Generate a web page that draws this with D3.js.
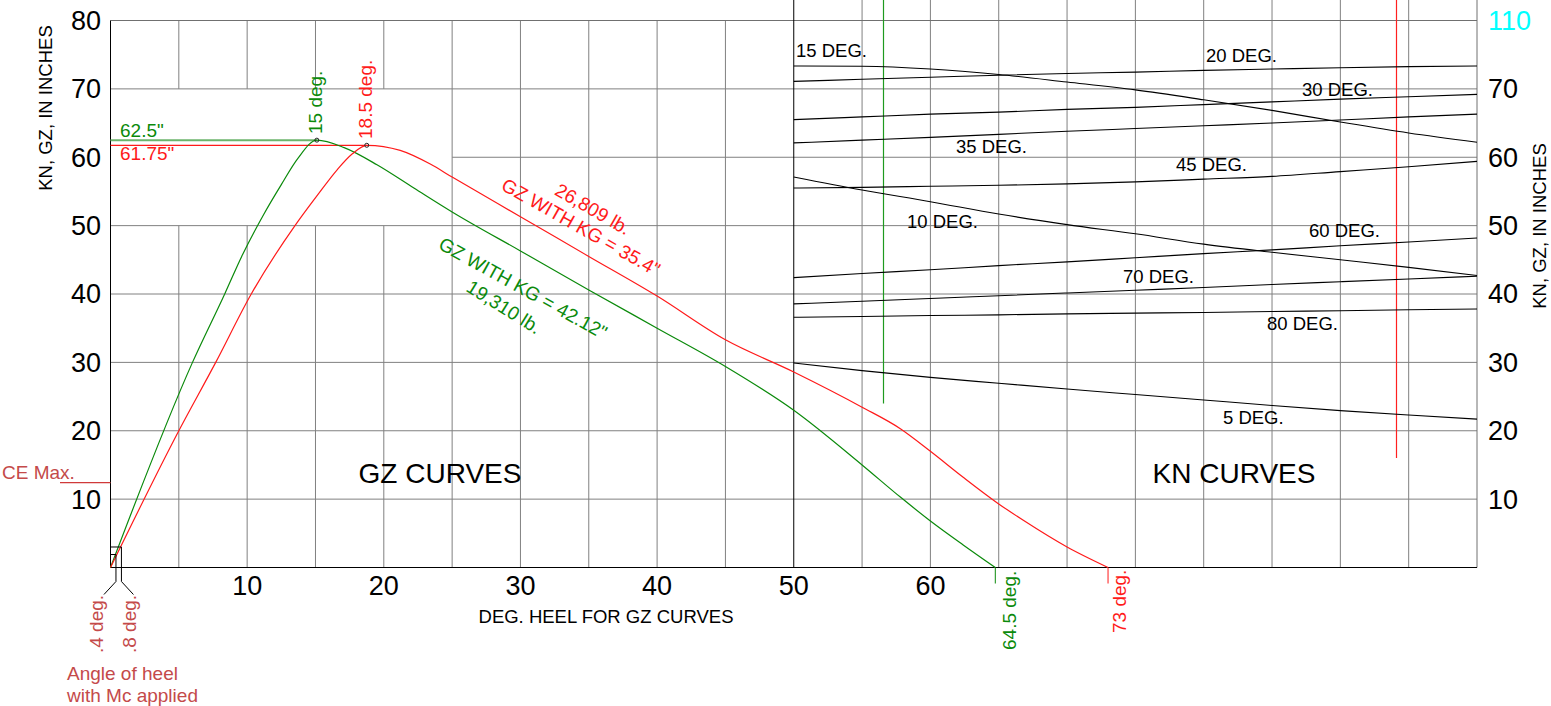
<!DOCTYPE html>
<html><head><meta charset="utf-8">
<script src="https://cdn.jsdelivr.net/npm/d3@7"></script>
<style>
body{margin:0;background:#fff}
svg{display:block}
text{font-family:"Liberation Sans",Arial,Helvetica,sans-serif}
</style>
</head><body>
<svg id="c" width="1551" height="706"></svg>
<script>
// ---------- DATA ----------
const heelTicks  = [10, 20, 30, 40, 50, 60];
const leftTicks  = [10, 20, 30, 40, 50, 60, 70, 80];
const rightTicks = [10, 20, 30, 40, 50, 60, 70];
const rightTopLabel = "110";

// GZ curves: [heel deg, GZ inches]
const gzGreen = [[0,0],[6,30],[8.4,40.2],[9.6,45.5],[11.2,51.6],[12.5,56.0],[13.7,59.8],[15.1,62.5],
  [17.1,61.4],[19.5,58.9],[22.2,55.5],[25,52.0],[30,46.3],[35,40.6],[40,35.0],[45,29.4],[50,23.0],
  [55,15.0],[57.8,10.3],[60,6.8],[62.4,3.3],[64.75,0]];
const gzRed = [[0,0],[5,20],[7.7,30],[10.3,40],[13.5,50],[15.2,54.6],[16.6,58.2],[17.7,60.5],[18.75,61.75],
  [21.2,61.0],[23.4,59.0],[25,57.1],[30,51.3],[35,45.5],[40,39.7],[45,33.3],[50,28.6],[55,23.45],[57.8,20.3],
  [60,17.0],[62.4,13.2],[65,9.3],[66.8,6.9],[70,3.0],[73,0]];
const greenPeak = {deg: 15.1, gz: 62.5, degLabel: "15 deg.", gzLabel: '62.5"'};
const redPeak   = {deg: 18.75, gz: 61.75, degLabel: "18.5 deg.", gzLabel: '61.75"'};
const greenEnd = {deg: 64.75, label: "64.5 deg."};
const redEnd   = {deg: 73, label: "73 deg."};
const ceMax = 12.4;
const mcAngles = [{deg: 0.4, gz: 1.9, label: ".4 deg."}, {deg: 0.8, gz: 3.0, label: ".8 deg."}];

// KN curves: displacement (lb) vs KN (inches)
const knDisp = [18000,19000,20000,21000,22000,23000,24000,25000,26000,27000,28000];
const kn5  = [29.9,28.8,27.8,26.95,26.1,25.3,24.5,23.7,22.95,22.3,21.7];
const kn10 = [57.1,55.2,53.5,51.7,50.15,48.8,47.3,46.1,45.0,43.9,42.7];
const kn15 = [73.35,73.3,72.9,72.1,71.0,69.85,68.4,66.85,65.15,63.55,62.2];
const kn20 = [71.1,71.4,71.7,72.0,72.25,72.45,72.7,72.9,73.1,73.25,73.35];
const kn30 = [65.5,65.9,66.3,66.6,67.0,67.3,67.7,68.1,68.5,68.85,69.2];
const kn35 = [62.1,62.5,62.9,63.35,63.8,64.2,64.6,65.0,65.45,65.9,66.3];
const kn45 = [55.5,55.6,55.75,55.9,56.1,56.4,56.8,57.2,57.9,58.6,59.4];
const kn60 = [42.4,43.0,43.55,44.15,44.7,45.3,45.9,46.45,47.05,47.6,48.2];
const kn70 = [38.55,38.95,39.35,39.75,40.15,40.55,40.95,41.4,41.8,42.2,42.6];
const kn80 = [36.6,36.7,36.85,36.95,37.1,37.2,37.3,37.45,37.55,37.7,37.8];
const knLabels = [["15 DEG.",18033,74.66],["20 DEG.",24034,73.93],["30 DEG.",25439,68.96],["35 DEG.",20375,60.62],
  ["45 DEG.",23595,57.92],["10 DEG.",19658,49.65],["60 DEG.",25541,48.34],["70 DEG.",22819,41.61],
  ["80 DEG.",24926,34.73],["5 DEG.",24282,20.99]];
const dispGreen = 19310, dispGreenBottom = 24;
const dispRed = 26809, dispRedBottom = 16;

// ---------- DRAW ----------
const svg = d3.select("#c");
const x = d3.scaleLinear().domain([0, 100]).range([110.5, 1477]);
const y = d3.scaleLinear().domain([0, 80]).range([567.5, 20.5]);
const xd = d3.scaleLinear().domain([18000, 28000]).range([x(50), x(100)]);

const GREEN = "#0b8a0b", RED = "#ff1a1a", DRED = "#c44a4a", GRID = "#808080";
const g = svg.append("g");

function seg(x1, y1, x2, y2, color, w) {
  g.append("line").attr("x1", x1).attr("y1", y1).attr("x2", x2).attr("y2", y2)
    .attr("stroke", color).attr("stroke-width", w || 1);
}

// vertical grid
d3.range(5, 100, 5).forEach(d => {
  if (d === 50) return;
  if (d < 25) { seg(x(d), y(80), x(d), y(70), GRID); seg(x(d), y(50), x(d), y(0), GRID); }
  else if (d > 50) seg(x(d), 0, x(d), y(0), GRID);
  else seg(x(d), y(80), x(d), y(0), GRID);
});
// horizontal grid
d3.range(10, 80, 10).forEach(v => {
  seg(v === 60 ? x(25) : x(0), y(v), x(100), y(v), GRID);
});
seg(x(0), y(80), x(100), y(80), "#707070");
seg(x(100), 0, x(100), y(0), "#707070");
seg(x(50), 0, x(50), y(0), "#000");
seg(x(0), y(80), x(0), y(0), "#000");
seg(x(0), y(0), x(100), y(0), "#000");

// displacement markers
seg(Math.round(xd(dispGreen)) + 0.5, 0, Math.round(xd(dispGreen)) + 0.5, y(dispGreenBottom), "#1f9a1f", 1.2);
seg(Math.round(xd(dispRed)) + 0.5, 0, Math.round(xd(dispRed)) + 0.5, y(dispRedBottom), "#ff2020", 1.2);

// KN curves
const knLine = d3.line().x((v, i) => xd(knDisp[i])).y(v => y(v)).curve(d3.curveMonotoneX);
[kn5, kn10, kn15, kn20, kn30, kn35, kn45, kn60, kn70, kn80].forEach(s => {
  g.append("path").attr("d", knLine(s)).attr("fill", "none").attr("stroke", "#000").attr("stroke-width", 1.1);
});
knLabels.forEach(([t, d, v]) => {
  g.append("text").attr("x", xd(d)).attr("y", y(v)).attr("font-size", 18.5).attr("fill", "#000").text(t);
});

// peak reference lines
seg(x(0), y(greenPeak.gz), x(greenPeak.deg), y(greenPeak.gz), "#6cb46c", 2);
seg(x(0), y(redPeak.gz), x(redPeak.deg), y(redPeak.gz), RED, 1.2);

// GZ curves
const gzLine = d3.line().x(d => x(d[0])).y(d => y(d[1])).curve(d3.curveMonotoneX);
g.append("path").attr("d", gzLine(gzGreen)).attr("fill", "none").attr("stroke", GREEN).attr("stroke-width", 1.2);
g.append("path").attr("d", gzLine(gzRed)).attr("fill", "none").attr("stroke", RED).attr("stroke-width", 1.2);

[greenPeak, redPeak].forEach(p => {
  g.append("circle").attr("cx", x(p.deg)).attr("cy", y(p.gz)).attr("r", 2)
    .attr("fill", "none").attr("stroke", "#222").attr("stroke-width", 1);
});

// CE max
seg(60, y(ceMax), x(0), y(ceMax), "#d03a3a", 1.2);
g.append("text").attr("x", 2).attr("y", 479).attr("font-size", 19).attr("fill", DRED).text("CE Max.");

// heel with Mc applied leaders
mcAngles.forEach((m, i) => {
  seg(x(0), y(m.gz), x(m.deg), y(m.gz), "#000");
  const xx = x(m.deg), dir = i === 0 ? -1 : 1;
  g.append("path").attr("d", `M${xx},${y(m.gz)}V${y(0) + 14}L${xx + dir * 12},${y(0) + 27}`)
    .attr("fill", "none").attr("stroke", "#000").attr("stroke-width", 1);
});
g.append("text").attr("transform", "translate(103,653) rotate(-90)").attr("font-size", 19).attr("fill", DRED).text(mcAngles[0].label);
g.append("text").attr("transform", "translate(136,653) rotate(-90)").attr("font-size", 19).attr("fill", DRED).text(mcAngles[1].label);
g.append("text").attr("x", 67).attr("y", 680).attr("font-size", 19).attr("fill", DRED).text("Angle of heel");
g.append("text").attr("x", 67).attr("y", 702).attr("font-size", 19).attr("fill", DRED).text("with Mc applied");

// end ticks
seg(x(greenEnd.deg), y(0), x(greenEnd.deg), y(0) + 16, GREEN);
seg(x(redEnd.deg), y(0), x(redEnd.deg), y(0) + 16, RED);
g.append("text").attr("transform", "translate(1016,650) rotate(-90)").attr("font-size", 19).attr("fill", GREEN).text(greenEnd.label);
g.append("text").attr("transform", "translate(1126,633) rotate(-90)").attr("font-size", 19).attr("fill", RED).text(redEnd.label);

// peak labels
g.append("text").attr("x", 120).attr("y", 137).attr("font-size", 19).attr("fill", GREEN).text(greenPeak.gzLabel);
g.append("text").attr("x", 120).attr("y", 160).attr("font-size", 19).attr("fill", RED).text(redPeak.gzLabel);
g.append("text").attr("transform", "translate(322,134) rotate(-90)").attr("font-size", 19).attr("fill", GREEN).text(greenPeak.degLabel);
g.append("text").attr("transform", "translate(372,139) rotate(-90)").attr("font-size", 19).attr("fill", RED).text(redPeak.degLabel);

// curve labels
function rlabel(t, cx, cy, ang, color) {
  g.append("text").attr("transform", `translate(${cx},${cy}) rotate(${ang})`).attr("text-anchor", "middle")
    .attr("dy", "0.35em").attr("font-size", 19).attr("fill", color).text(t);
}
rlabel("26,809 lb.", 593, 209, 30, RED);
rlabel('GZ WITH KG = 35.4"', 581, 227, 29.5, RED);
rlabel('GZ WITH KG = 42.12"', 523, 288, 29, GREEN);
rlabel("19,310 lb.", 504, 307, 32, GREEN);

// titles
g.append("text").attr("x", 440).attr("y", 483).attr("text-anchor", "middle").attr("font-size", 28).text("GZ CURVES");
g.append("text").attr("x", 1234).attr("y", 483).attr("text-anchor", "middle").attr("font-size", 28).text("KN CURVES");
g.append("text").attr("x", 606).attr("y", 623).attr("text-anchor", "middle").attr("font-size", 18.5).text("DEG. HEEL FOR GZ CURVES");
g.append("text").attr("transform", "translate(52,108) rotate(-90)").attr("text-anchor", "middle").attr("font-size", 18.5).text("KN, GZ, IN INCHES");
g.append("text").attr("transform", "translate(1546,226) rotate(-90)").attr("text-anchor", "middle").attr("font-size", 18.5).text("KN, GZ, IN INCHES");

// tick labels
leftTicks.forEach(v => g.append("text").attr("x", 101).attr("y", y(v)).attr("dy", "0.35em")
  .attr("text-anchor", "end").attr("font-size", 27).text(v));
rightTicks.forEach(v => g.append("text").attr("x", 1488).attr("y", y(v)).attr("dy", "0.35em")
  .attr("font-size", 27).text(v));
g.append("text").attr("x", 1488).attr("y", y(80)).attr("dy", "0.35em").attr("font-size", 27).attr("fill", "#00ffff").text(rightTopLabel);
heelTicks.forEach(v => g.append("text").attr("x", x(v)).attr("y", 595).attr("text-anchor", "middle")
  .attr("font-size", 27).text(v));
</script>
</body></html>
